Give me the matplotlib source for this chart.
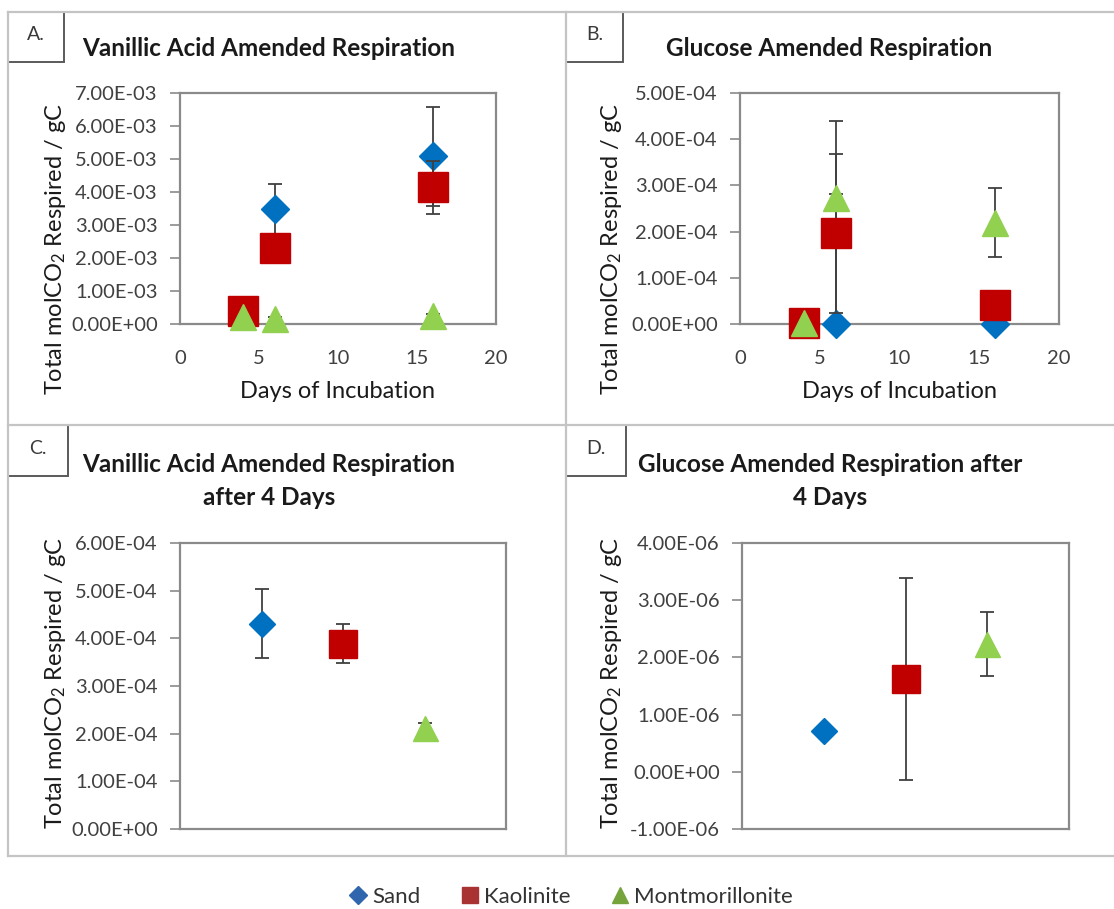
import numpy as np
import matplotlib
matplotlib.use('Agg')
import matplotlib.pyplot as plt
from matplotlib.lines import Line2D
from matplotlib.patches import Rectangle
from matplotlib.ticker import FuncFormatter

plt.rcParams['font.family'] = ['Lato', 'DejaVu Sans']
plt.rcParams['mathtext.fontset'] = 'custom'
plt.rcParams['mathtext.rm'] = 'Lato'
plt.rcParams['mathtext.default'] = 'regular'

# ---- data ----
days = [4, 6, 16]
series = ['Sand', 'Kaolinite', 'Montmorillonite']

# A. vanillic acid, cumulative respiration
va_sand = [4.31e-4, 3.47e-3, 5.09e-3]
va_sand_err = [0.72e-4, 0.78e-3, 1.50e-3]
va_kao = [3.89e-4, 2.30e-3, 4.14e-3]
va_kao_err = [0.41e-4, 0.25e-3, 0.81e-3]
va_mont = [2.12e-4, 1.5e-4, 2.4e-4]
va_mont_err = [0.10e-4, 0.5e-4, 0.5e-4]

# B. glucose, cumulative respiration
gl_sand = [0.71e-6, 0.0, 0.0]
gl_sand_err = [0.05e-6, 4.4e-4, 0.05e-4]
gl_kao = [1.62e-6, 1.96e-4, 0.42e-4]
gl_kao_err = [1.77e-6, 1.72e-4, 0.20e-4]
gl_mont = [2.23e-6, 2.72e-4, 2.19e-4]
gl_mont_err = [0.56e-6, 0.10e-4, 0.75e-4]

# C / D: values after 4 days (first entry of each series)
pos4 = [1, 2, 3]

colors = ['#0070C0', '#C00000', '#92D050']
legend_colors = ['#2F66AE', '#A93232', '#75A43C']
markers = ['D', 's', '^']
msizes = [14, 21, 19]

W, H = 1114, 909
fig = plt.figure(figsize=(W / 100, H / 100), dpi=100)

# panel frames drawn in pixel space
bg = fig.add_axes([0, 0, 1, 1], zorder=-1)
bg.set_xlim(0, W)
bg.set_ylim(H, 0)
bg.axis('off')
fc = '#C4C4C4'
for y in [12, 425, 856]:
    bg.plot([8, W], [y, y], color=fc, lw=1.6)
for x in [8, 566]:
    bg.plot([x, x], [12, 856], color=fc, lw=1.6)
boxes = [('A.', 8, 12, 56, 50), ('B.', 566, 12, 57, 50),
         ('C.', 8, 425, 60, 51), ('D.', 566, 425, 60, 51)]
for lab, x0, y0, bw, bh in boxes:
    bg.add_patch(Rectangle((x0, y0), bw, bh, fill=True, facecolor='white',
                           edgecolor='#5A5A5A', lw=1.4))
    bg.text(x0 + bw / 2, y0 + bh / 2 - 2, lab, ha='center', va='center',
            fontsize=14, color='#3A3A3A')


def px_axes(x0, y0, x1, y1):
    return fig.add_axes([x0 / W, 1 - y1 / H, (x1 - x0) / W, (y1 - y0) / H])


def style(ax, ylim, step, xticks):
    ax.set_ylim(*ylim)
    ax.set_yticks(np.arange(ylim[0], ylim[1] + step / 2, step))
    ax.yaxis.set_major_formatter(FuncFormatter(lambda v, p: f'{v:.2E}'))
    for s in ax.spines.values():
        s.set_color('#8A8A8A')
        s.set_linewidth(1.6)
    ax.tick_params(axis='y', direction='out', length=7, width=1.2,
                   color='#8A8A8A', labelsize=14.5, labelcolor='#404040', pad=9)
    ax.tick_params(axis='x', length=0, labelsize=14.5, labelcolor='#404040', pad=19)
    if xticks is None:
        ax.set_xticks([])
    else:
        ax.set_xticks(xticks)


def draw(ax, xs, vals, errs, shrink=0):
    for i in range(3):
        ax.errorbar(xs[i], vals[i], yerr=errs[i], fmt='none', ecolor='#404040',
                    elinewidth=1.3, capsize=5, capthick=1.3, zorder=3 + 2 * i)
        ax.plot(xs[i], vals[i], ls='none', marker=markers[i], color=colors[i],
                ms=msizes[i] - shrink, mec=colors[i], zorder=4 + 2 * i, clip_on=False)


ylab = r'Total molCO$_2$ Respired / gC'
lkw = dict(rotation=90, ha='center', va='center', fontsize=17, color='#1A1A1A')

# A
axA = px_axes(180, 93, 496, 324)
draw(axA, [days] * 3, [va_sand, va_kao, va_mont], [va_sand_err, va_kao_err, va_mont_err])
axA.set_xlim(0, 20)
style(axA, (0, 7e-3), 1e-3, [0, 5, 10, 15, 20])
axA.set_xlabel('Days of Incubation', fontsize=17, color='#1A1A1A', labelpad=10)
fig.text(55 / W, 1 - 249 / H, ylab, **lkw)

# B
axB = px_axes(740, 93, 1059, 324)
draw(axB, [days] * 3, [gl_sand, gl_kao, gl_mont], [gl_sand_err, gl_kao_err, gl_mont_err])
axB.set_xlim(0, 20)
style(axB, (0, 5e-4), 1e-4, [0, 5, 10, 15, 20])
axB.set_xlabel('Days of Incubation', fontsize=17, color='#1A1A1A', labelpad=10)
fig.text(611 / W, 1 - 249 / H, ylab, **lkw)

# C
axC = px_axes(180, 543, 506, 829)
draw(axC, [[p] for p in pos4], [[v[0]] for v in [va_sand, va_kao, va_mont]],
     [[e[0]] for e in [va_sand_err, va_kao_err, va_mont_err]], shrink=1)
axC.set_xlim(0, 4)
style(axC, (0, 6e-4), 1e-4, None)
fig.text(55 / W, 1 - 683 / H, ylab, **lkw)

# D
axD = px_axes(742, 543, 1069, 829)
draw(axD, [[p] for p in pos4], [[v[0]] for v in [gl_sand, gl_kao, gl_mont]],
     [[e[0]] for e in [gl_sand_err, gl_kao_err, gl_mont_err]], shrink=1)
axD.set_xlim(0, 4)
style(axD, (-1e-6, 4e-6), 1e-6, None)
fig.text(611 / W, 1 - 683 / H, ylab, **lkw)

# titles
tkw = dict(ha='center', va='center', fontsize=17.5, fontweight='bold', color='#1A1A1A')
fig.text(269 / W, 1 - 48 / H, 'Vanillic Acid Amended Respiration', **tkw)
fig.text(829 / W, 1 - 48 / H, 'Glucose Amended Respiration', **tkw)
fig.text(269 / W, 1 - 481 / H, 'Vanillic Acid Amended Respiration\nafter 4 Days',
         linespacing=1.55, **tkw)
fig.text(830 / W, 1 - 481 / H, 'Glucose Amended Respiration after\n4 Days',
         linespacing=1.55, **tkw)

# legend
handles = [Line2D([], [], ls='none', marker=m, color=c, ms=s)
           for m, c, s in zip(markers, legend_colors, [9, 12, 12])]
fig.legend(handles, series, loc='center', bbox_to_anchor=(570 / W, 1 - 897 / H),
           ncol=3, frameon=False, fontsize=16, handletextpad=0.15, columnspacing=1.7,
           handlelength=1.0, labelcolor='#333333')

fig.savefig('out.png', dpi=100)
